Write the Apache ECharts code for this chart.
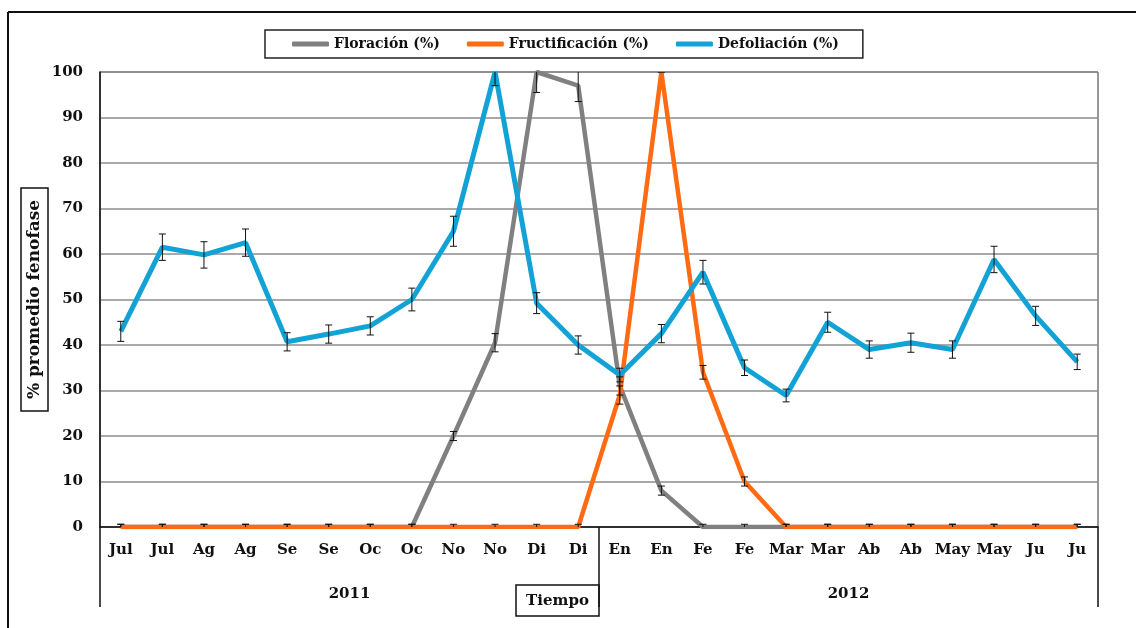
<!DOCTYPE html>
<html>
<head>
<meta charset="utf-8">
<script src="https://cdn.jsdelivr.net/npm/echarts@6/dist/echarts.min.js"></script>
<style>html,body{margin:0;padding:0;background:#fff}#c{width:1136px;height:628px}</style>
</head>
<body>
<div id="c"></div>
<script>
const categories = ['Jul','Jul','Ag','Ag','Se','Se','Oc','Oc','No','No','Di','Di','En','En','Fe','Fe','Mar','Mar','Ab','Ab','May','May','Ju','Ju'];
const years = ['2011','2012'];
const yTicks = [0,10,20,30,40,50,60,70,80,90,100];

const floracion      = [0,0,0,0,0,0,0,0,20,40.5,100,97,31,8,0,0,0,0,0,0,0,0,0,0];
const floracionErr   = [0.6,0.6,0.6,0.6,0.6,0.6,0.6,0.6,1,2,4.5,3.5,2,1,0.6,0.6,0.6,0.6,0.6,0.6,0.6,0.6,0.6,0.6];
const fructificacion = [0,0,0,0,0,0,0,0,0,0,0,0,29,100,34,10,0,0,0,0,0,0,0,0];
const fructifErr     = [0.6,0.6,0.6,0.6,0.6,0.6,0.6,0.6,0.6,0.6,0.6,0.6,2,0,1.5,1,0.6,0.6,0.6,0.6,0.6,0.6,0.6,0.6];
const defoliacion    = [43,61.5,59.8,62.5,40.7,42.4,44.2,50,65,100,49.2,40,33.4,42.5,56,35,28.9,45,39,40.5,39,58.8,46.4,36.3];
const defoliacionErr = [2.2,2.9,2.9,3,2,2,2,2.5,3.3,3,2.3,2,1.5,2,2.6,1.7,1.4,2.2,1.9,2.1,1.9,2.9,2.1,1.7];

const FONT = 'DejaVu Serif';
const C_GRAY = '#808080', C_ORANGE = '#ff6a13', C_BLUE = '#12a2d6';

function errData(vals, errs) {
  return vals.map((v, i) => [i, v - errs[i], v + errs[i]]);
}
function errSeries(name, vals, errs) {
  return {
    type: 'custom', name: name + '_err', z: 10, clip: true, silent: true,
    data: errData(vals, errs),
    encode: { x: 0, y: [1, 2] },
    renderItem: function (params, api) {
      const i = api.value(0);
      const lo = api.coord([i, api.value(1)]);
      const hi = api.coord([i, api.value(2)]);
      const hw = 3.5;
      const st = { stroke: '#111', lineWidth: 1 };
      return { type: 'group', children: [
        { type: 'line', shape: { x1: lo[0], y1: lo[1], x2: hi[0], y2: hi[1] }, style: st },
        { type: 'line', shape: { x1: lo[0]-hw, y1: lo[1], x2: lo[0]+hw, y2: lo[1] }, style: st },
        { type: 'line', shape: { x1: hi[0]-hw, y1: hi[1], x2: hi[0]+hw, y2: hi[1] }, style: st }
      ]};
    }
  };
}

const chart = echarts.init(document.getElementById('c'), null, { renderer: 'canvas' });
chart.setOption({
  animation: false,
  backgroundColor: '#fff',
  textStyle: { fontFamily: FONT },
  legend: {
    data: ['Floración (%)', 'Fructificación (%)', 'Defoliación (%)'],
    top: 30, left: 265,
    padding: [7, 24, 7, 27],
    itemGap: 27, itemWidth: 37, itemHeight: 5,
    icon: 'roundRect',
    borderColor: '#222', borderWidth: 1.5,
    textStyle: { fontFamily: FONT, fontWeight: 'bold', fontSize: 14, color: '#111' }
  },
  grid: { left: 100, right: 38, top: 72, bottom: 101, show: true, borderColor: '#333', borderWidth: 1 },
  xAxis: [{
    type: 'category', data: categories, boundaryGap: true,
    axisLine: { lineStyle: { color: '#111', width: 1.5 } },
    axisTick: { show: false },
    axisLabel: { interval: 0, margin: 16, fontFamily: FONT, fontWeight: 'bold', fontSize: 15, color: '#111' }
  }, {
    type: 'category', data: years, position: 'bottom', boundaryGap: true,
    axisLine: { show: false },
    axisTick: { show: true, length: 80, lineStyle: { color: '#111', width: 1.5 } },
    axisLabel: { margin: 60, fontFamily: FONT, fontWeight: 'bold', fontSize: 15, color: '#111' },
    splitLine: { show: false }
  }],
  yAxis: {
    type: 'value', min: yTicks[0], max: yTicks[yTicks.length-1], interval: 10,
    name: '% promedio fenofase', nameLocation: 'middle', nameGap: 52, nameRotate: 90,
    nameMoveOverlap: false,
    nameTextStyle: { fontFamily: FONT, fontWeight: 'bold', fontSize: 17, color: '#111',
      borderColor: '#111', borderWidth: 1.5, padding: [5, 12, 5, 12] },
    axisLine: { show: true, lineStyle: { color: '#111', width: 1.5 } },
    axisTick: { show: false },
    axisLabel: { margin: 17, fontFamily: FONT, fontWeight: 'bold', fontSize: 15, color: '#111' },
    splitLine: { lineStyle: { color: '#8c8c8c', width: 1.5 } }
  },
  series: [
    { name: 'Floración (%)', type: 'line', data: floracion, showSymbol: false, z: 3,
      itemStyle: { color: C_GRAY }, lineStyle: { color: C_GRAY, width: 4.5 } },
    { name: 'Fructificación (%)', type: 'line', data: fructificacion, showSymbol: false, z: 4,
      itemStyle: { color: C_ORANGE }, lineStyle: { color: C_ORANGE, width: 4.5 } },
    { name: 'Defoliación (%)', type: 'line', data: defoliacion, showSymbol: false, z: 5,
      itemStyle: { color: C_BLUE }, lineStyle: { color: C_BLUE, width: 5 } },
    errSeries('Floración (%)', floracion, floracionErr),
    errSeries('Fructificación (%)', fructificacion, fructifErr),
    errSeries('Defoliación (%)', defoliacion, defoliacionErr)
  ],
  graphic: [
    { type: 'line', shape: { x1: 8, y1: 12, x2: 8, y2: 628 }, style: { stroke: '#111', lineWidth: 2 } },
    { type: 'line', shape: { x1: 8, y1: 12, x2: 1136, y2: 12 }, style: { stroke: '#111', lineWidth: 2 } },
    { type: 'rect', shape: { x: 516, y: 585, width: 83, height: 31 }, style: { fill: '#fff', stroke: '#111', lineWidth: 1.5 } },
    { type: 'text', x: 557.5, y: 601, style: { text: 'Tiempo', fontFamily: FONT, fontWeight: 'bold', fontSize: 15, fill: '#111', align: 'center', verticalAlign: 'middle' } }
  ]
});
</script>
</body>
</html>
